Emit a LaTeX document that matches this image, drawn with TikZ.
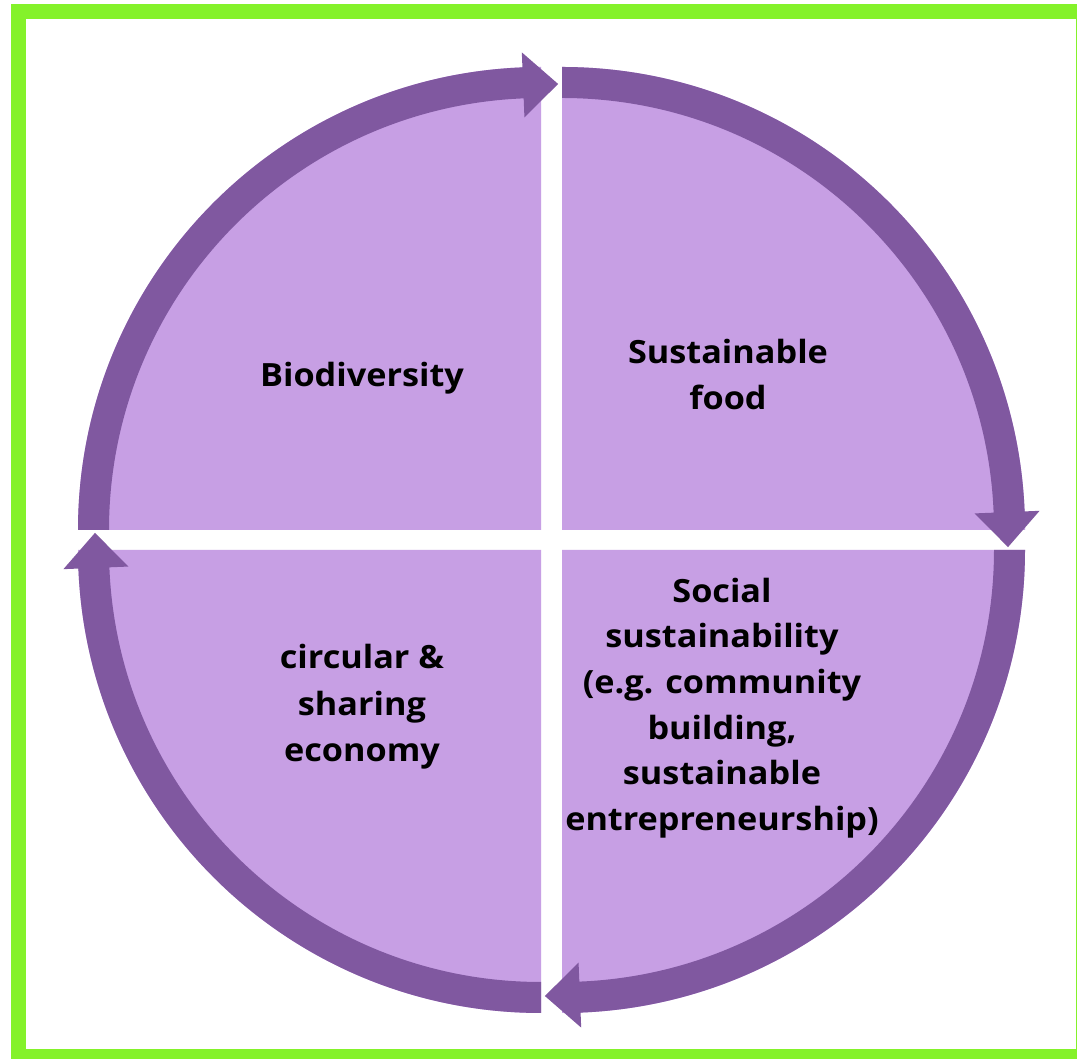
\documentclass[tikz,border=0pt]{standalone}
\usepackage{fontspec}
\setmainfont{Open Sans}[BoldFont={Open Sans Bold}]
\newfontfamily\labelfont{Open Sans Bold}[FakeStretch=1.07]
\usetikzlibrary{calc}
\definecolor{frameGreen}{RGB}{132,242,42}
\definecolor{quadFill}{RGB}{199,159,228}
\definecolor{bandDark}{RGB}{128,88,160}
\tikzset{
  label/.style={font=\labelfont\fontsize{32}{46.5}\selectfont, align=center, text=black, inner sep=0pt},
}
\newcommand{\quadrant}{%
  \fill[quadFill] (0,0) -- (180:463) arc[start angle=180, end angle=90, radius=463] -- cycle;
  \fill[bandDark] (180:432) -- (180:463) arc[start angle=180, end angle=92.3, radius=463]
     -- (92.3:478) -- ($(92.3:445)+(2.3:35)$) -- (92.3:413) -- (92.3:432)
     arc[start angle=92.3, end angle=180, radius=432] -- cycle;
}
\begin{document}
\begin{tikzpicture}[x=1pt, y=1pt]
\useasboundingbox (0,0) rectangle (1077,1059);
\clip (0,0) rectangle (1077,1059);
\fill[white] (0,0) rectangle (1077,1059);
\fill[frameGreen] (11,-30) rectangle (1110,1055);
\fill[white] (26,10) rectangle (1075.5,1040);
\begin{scope}[shift={(541,529)}]
  \quadrant
\end{scope}
\begin{scope}[shift={(562,529)}, rotate=-90]
  \quadrant
\end{scope}
\begin{scope}[shift={(562,509)}, rotate=-180]
  \quadrant
\end{scope}
\begin{scope}[shift={(541,509)}, rotate=90]
  \quadrant
\end{scope}
\node[label] (bio) at (362,681) {Biodiversity};
\node[label] (food) at (728,684.5) {Sustainable\\food};
\node[label] (circ) at (362,352) {circular \&\\sharing\\economy};
\node[label, font=\labelfont\fontsize{32}{45.6}\selectfont] (soc) at (722,351) {Social\\sustainability\\(e.g. community\\building,\\sustainable\\entrepreneurship)};
\end{tikzpicture}
\end{document}
